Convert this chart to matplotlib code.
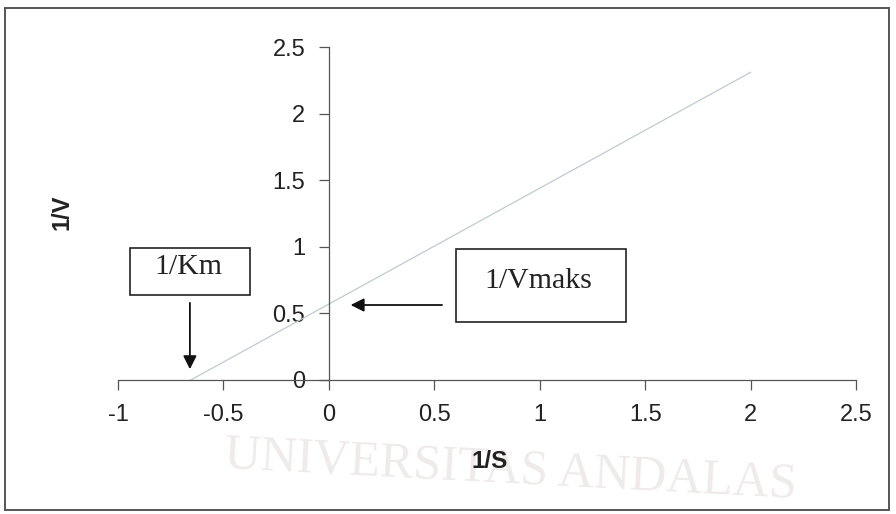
import matplotlib.pyplot as plt
from matplotlib.patches import Rectangle

# Lineweaver-Burk line (1/S vs 1/V)
inv_s = [-0.655, 2.0]
inv_v = [0.0, 2.31]
x_ticks = [-1, -0.5, 0, 0.5, 1, 1.5, 2, 2.5]
y_ticks = [0, 0.5, 1, 1.5, 2, 2.5]
x_tick_labels = ['-1', '-0.5', '0', '0.5', '1', '1.5', '2', '2.5']
y_tick_labels = ['0', '0.5', '1', '1.5', '2', '2.5']

plt.rcParams['font.family'] = ['Liberation Sans', 'DejaVu Sans']

fig = plt.figure(figsize=(8.96, 5.14), dpi=100)
ax = fig.add_axes([118/896, 1 - 380/514, 738/896, 333/514])
ax.set_facecolor('none')

# outer frame
fig.patches.append(Rectangle((5/896, 4/514), 884/896, 502/514, transform=fig.transFigure,
                             fill=False, edgecolor='#555555', linewidth=1.4))

# faint watermark
fig.text(0.57, 0.085, 'UNIVERSITAS ANDALAS', family='Liberation Serif', fontsize=36,
         color='#efebea', ha='center', va='center', rotation=-3, zorder=0)

ax.plot(inv_s, inv_v, color='#bfcad2', linewidth=0.9)

ax.set_xlim(-1, 2.5)
ax.set_ylim(0, 2.5)
ax.spines['left'].set_position(('data', 0))
ax.spines['bottom'].set_position(('data', 0))
ax.spines['top'].set_visible(False)
ax.spines['right'].set_visible(False)
for s in ['left', 'bottom']:
    ax.spines[s].set_color('#555555')
    ax.spines[s].set_linewidth(0.9)

ax.set_xticks(x_ticks)
ax.set_xticklabels(x_tick_labels)
ax.set_yticks(y_ticks)
ax.set_yticklabels(y_tick_labels)
ax.tick_params(axis='both', direction='out', length=7, width=0.9, color='#555555',
               labelsize=17, labelcolor='#222222')
ax.tick_params(axis='x', pad=10)
ax.tick_params(axis='y', pad=10)

fig.text(62/896, 1 - 212/514, '1/V', rotation=90, fontsize=17, fontweight='bold',
         ha='center', va='center', color='#222222')
fig.text(490/896, 1 - 462/514, '1/S', fontsize=17.5, fontweight='bold',
         ha='center', va='center', color='#222222')

# 1/Km box and arrow
fig.patches.append(Rectangle((130/896, 1 - 295/514), 120/896, 47/514, transform=fig.transFigure,
                             fill=False, edgecolor='#222222', linewidth=1.2))
fig.text(188/896, 1 - 267/514, '1/Km', family='Liberation Serif', fontsize=21.5,
         ha='center', va='center', color='#222222')
ax.annotate('', xy=(-0.659, 0.06), xytext=(-0.659, 0.6),
            arrowprops=dict(arrowstyle='-|>', color='#111111', lw=1.3, mutation_scale=20))

# 1/Vmaks box and arrow
fig.patches.append(Rectangle((456/896, 1 - 322/514), 170/896, 73/514, transform=fig.transFigure,
                             fill=False, edgecolor='#222222', linewidth=1.2))
fig.text(538/896, 1 - 281/514, '1/Vmaks', family='Liberation Serif', fontsize=21.5,
         ha='center', va='center', color='#222222')
ax.annotate('', xy=(0.09, 0.563), xytext=(0.55, 0.563),
            arrowprops=dict(arrowstyle='-|>', color='#111111', lw=1.3, mutation_scale=20))

fig.savefig('out.png', dpi=100)
